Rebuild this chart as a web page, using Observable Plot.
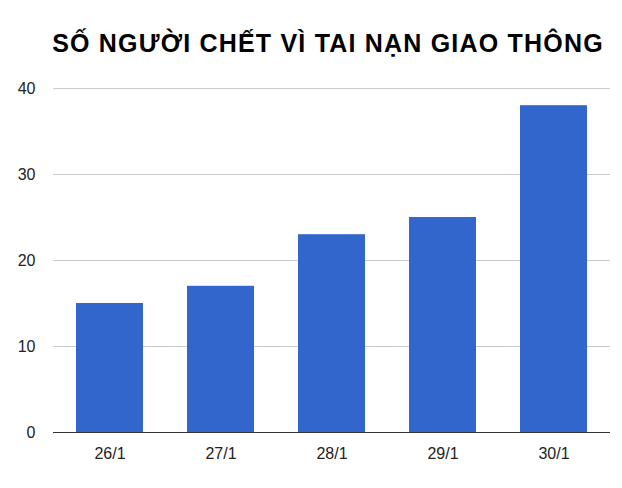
<!DOCTYPE html>
<html>
<head>
<meta charset="utf-8">
<script src="https://cdn.jsdelivr.net/npm/d3@7"></script>
<script src="https://cdn.jsdelivr.net/npm/@observablehq/plot@0.6"></script>
<style>
  html, body { margin: 0; padding: 0; background: #fff; }
  body { width: 622px; height: 488px; overflow: hidden; font-family: "Liberation Sans", Arial, sans-serif; }
  #title { height: 66px; box-sizing: border-box; padding-top: 31px; padding-left: 34px; text-align: center;
           font-size: 25px; letter-spacing: 1.2px; font-weight: bold; color: #000; line-height: 24px; white-space: nowrap; }
</style>
</head>
<body>
<div id="title">SỐ NGƯỜI CHẾT VÌ TAI NẠN GIAO THÔNG</div>
<div id="chart"></div>
<script>
const days = ["26/1", "27/1", "28/1", "29/1", "30/1"];
const deaths = [15, 17, 23, 25, 38];
const yTicks = [0, 10, 20, 30, 40];

const data = days.map((d, i) => ({day: d, value: deaths[i]}));

const chart = Plot.plot({
  width: 622,
  height: 422,
  marginLeft: 53,
  marginRight: 12,
  marginTop: 22,
  marginBottom: 56,
  style: {fontFamily: "'Liberation Sans', Arial, sans-serif", fontSize: "16px", color: "#222", background: "#fff"},
  x: {domain: days, paddingInner: 0.4, paddingOuter: 0.2, label: null, tickSize: 0, tickPadding: 15},
  y: {domain: [0, 40], ticks: yTicks, label: null, tickSize: 0, tickPadding: 18},
  marks: [
    Plot.gridY(yTicks.filter(t => t > 0), {stroke: "#ccc", strokeOpacity: 1, strokeWidth: 1}),
    Plot.barY(data, {x: "day", y: "value", fill: "#3366cc"}),
    Plot.ruleY([0], {stroke: "#333", strokeWidth: 1})
  ]
});
document.getElementById("chart").appendChild(chart);
</script>
</body>
</html>
